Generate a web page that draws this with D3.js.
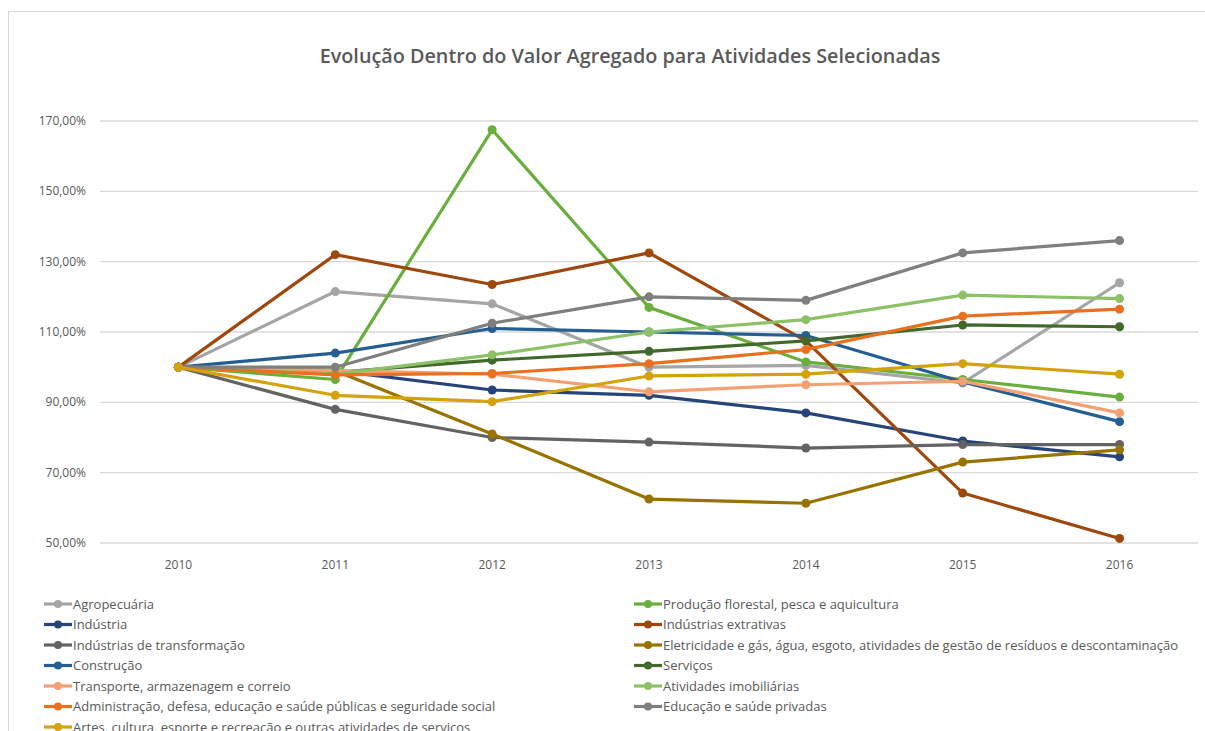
<!DOCTYPE html>
<html>
<head>
<meta charset="utf-8">
<script src="https://d3js.org/d3.v7.min.js"></script>
<style>
  body { margin: 0; background: #fff; }
  text { font-family: "Open Sans", "Noto Sans", sans-serif; fill: #595959; }
</style>
</head>
<body>
<svg width="1205" height="731"></svg>
<script>
var years = ["2010", "2011", "2012", "2013", "2014", "2015", "2016"];
var yTicks = [50, 70, 90, 110, 130, 150, 170];

var seriesNames = [
  "Agropecuária",
  "Produção florestal, pesca e aquicultura",
  "Indústria",
  "Indústrias extrativas",
  "Indústrias de transformação",
  "Eletricidade e gás, água, esgoto, atividades de gestão de resíduos e descontaminação",
  "Construção",
  "Serviços",
  "Transporte, armazenagem e correio",
  "Atividades imobiliárias",
  "Administração, defesa, educação e saúde públicas e seguridade social",
  "Educação e saúde privadas",
  "Artes, cultura, esporte e recreação e outras atividades de serviços"
];

var seriesColors = [
  "#a5a5a5", "#6aaf3d", "#264478", "#9e480e", "#636363", "#997300", "#255e91",
  "#43682b", "#f4a073", "#8cc168", "#e8701f", "#7f7f7f", "#d4a20a"
];

// values in % (2010 = 100)
var agropecuaria  = [100, 121.5, 118, 100, 100.5, 95.5, 124];
var producao      = [100, 96.5, 167.5, 117, 101.5, 96.5, 91.5];
var industria     = [100, 99, 93.5, 92, 87, 79, 74.5];
var extrativas    = [100, 132, 123.5, 132.5, 107.5, 64.2, 51.3];
var transformacao = [100, 88, 80, 78.7, 77, 78, 78];
var eletricidade  = [100, 99, 81, 62.5, 61.3, 73, 76.5];
var construcao    = [100, 104, 111, 110, 109, 95.8, 84.5];
var servicos      = [100, 98.5, 102, 104.5, 107.5, 112, 111.5];
var transporte    = [100, 99, 98, 93, 95, 96, 87];
var imobiliarias  = [100, 98, 103.5, 110, 113.5, 120.5, 119.5];
var administracao = [100, 97.8, 98.2, 101, 105, 114.5, 116.5];
var educacao      = [100, 100, 112.5, 120, 119, 132.5, 136];
var artes         = [100, 92, 90.2, 97.5, 98, 101, 98];

var seriesValues = [agropecuaria, producao, industria, extrativas, transformacao,
  eletricidade, construcao, servicos, transporte, imobiliarias, administracao,
  educacao, artes];

var svg = d3.select("svg");

// chart frame
svg.append("rect")
  .attr("x", 8.5).attr("y", 11.5)
  .attr("width", 1220).attr("height", 740)
  .attr("fill", "#fff")
  .attr("stroke", "#d9d9d9");

svg.append("text")
  .attr("x", 630).attr("y", 63)
  .attr("text-anchor", "middle")
  .style("font-size", "19.8px")
  .style("font-weight", 600)
  .text("Evolução Dentro do Valor Agregado para Atividades Selecionadas");

var x = d3.scaleBand().domain(years).range([100, 1198]);
var y = d3.scaleLinear().domain([50, 170]).range([543, 121]);

// gridlines
svg.append("g")
  .selectAll("line")
  .data(yTicks)
  .enter().append("line")
  .attr("x1", 100).attr("x2", 1198)
  .attr("y1", function(d) { return y(d); })
  .attr("y2", function(d) { return y(d); })
  .attr("stroke", "#d9d9d9")
  .attr("stroke-width", 1.3);

// y labels
svg.append("g")
  .selectAll("text")
  .data(yTicks)
  .enter().append("text")
  .attr("x", 86)
  .attr("y", function(d) { return y(d) + 4; })
  .attr("text-anchor", "end")
  .style("font-size", "12px")
  .text(function(d) { return d.toFixed(2).replace(".", ",") + "%"; });

// x labels
svg.append("g")
  .selectAll("text")
  .data(years)
  .enter().append("text")
  .attr("x", function(d) { return x(d) + x.bandwidth() / 2; })
  .attr("y", 569)
  .attr("text-anchor", "middle")
  .style("font-size", "12px")
  .text(function(d) { return d; });

var line = d3.line()
  .x(function(d, i) { return x(years[i]) + x.bandwidth() / 2; })
  .y(function(d) { return y(d); });

var series = svg.append("g")
  .selectAll("g")
  .data(seriesValues)
  .enter().append("g");

series.append("path")
  .attr("d", line)
  .attr("fill", "none")
  .attr("stroke", function(d, i) { return seriesColors[i]; })
  .attr("stroke-width", 3.2)
  .attr("stroke-linejoin", "round");

series.each(function(vals, si) {
  d3.select(this).selectAll("circle")
    .data(vals)
    .enter().append("circle")
    .attr("cx", function(d, i) { return x(years[i]) + x.bandwidth() / 2; })
    .attr("cy", function(d) { return y(d); })
    .attr("r", 4.5)
    .attr("fill", seriesColors[si]);
});

// legend, two columns filled row by row
var legend = svg.append("g")
  .selectAll("g")
  .data(seriesNames)
  .enter().append("g")
  .attr("transform", function(d, i) {
    var col = i % 2, row = Math.floor(i / 2);
    return "translate(" + (col ? 634 : 44) + "," + (604 + row * 20.5) + ")";
  });

legend.append("line")
  .attr("x1", 0).attr("x2", 28)
  .attr("stroke", function(d, i) { return seriesColors[i]; })
  .attr("stroke-width", 3.2);

legend.append("circle")
  .attr("cx", 14).attr("r", 4)
  .attr("fill", function(d, i) { return seriesColors[i]; });

legend.append("text")
  .attr("x", 29)
  .attr("y", 4.5)
  .style("font-size", "13px")
  .text(function(d) { return d; });
</script>
</body>
</html>
